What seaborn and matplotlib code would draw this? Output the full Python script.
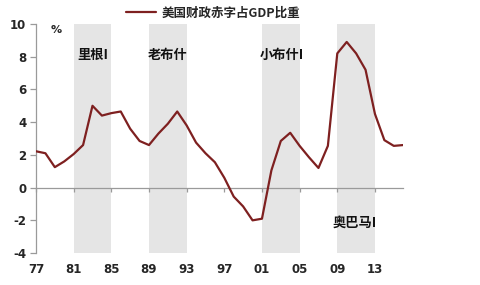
import matplotlib
matplotlib.use("Agg")
import matplotlib.pyplot as plt
import seaborn as sns
import pandas as pd

years = list(range(1977, 2017))
deficit = [2.22, 2.1, 1.25, 1.6, 2.05, 2.6, 5.0, 4.4, 4.55, 4.65,
           3.6, 2.85, 2.6, 3.3, 3.9, 4.65, 3.8, 2.75, 2.1, 1.55,
           0.6, -0.55, -1.15, -2.0, -1.9, 1.05, 2.85, 3.35, 2.55, 1.85,
           1.2, 2.55, 8.2, 8.9, 8.2, 7.2, 4.5, 2.9, 2.55, 2.6]
series_name = "美国财政赤字占GDP比重"
term_starts = [1981, 1989, 2001, 2009]
term_ends = [1985, 1993, 2005, 2013]
term_names = ["里根I", "老布什", "小布什I", "奥巴马I"]
xtick_years = [1977, 1981, 1985, 1989, 1993, 1997, 2001, 2005, 2009, 2013]
xtick_labels = ["77", "81", "85", "89", "93", "97", "01", "05", "09", "13"]
yticks = [-4, -2, 0, 2, 4, 6, 8, 10]

sns.set_style("white")
plt.rcParams["font.family"] = ["Noto Sans CJK SC", "DejaVu Sans"]

df = pd.DataFrame({"year": years, "value": deficit, "series": series_name})

fig = plt.figure(figsize=(4.8, 2.85), dpi=100)
ax = fig.add_axes([0.075, 0.112, 0.765, 0.804])

for s, e in zip(term_starts, term_ends):
    ax.axvspan(s, e, color="#e5e5e5", lw=0, zorder=0)

sns.lineplot(data=df, x="year", y="value", hue="series",
             palette=["#7e2020"], linewidth=1.6, ax=ax, zorder=3, legend=True)

ax.set_xlim(1977, 2016)
ax.set_ylim(-4, 10)
ax.set_yticks(yticks)
ax.set_yticklabels([str(v) for v in yticks], fontweight="bold", fontsize=8.5,
                   family=["DejaVu Sans"])
ax.set_xlabel("")
ax.set_ylabel("")

for sp in ["top", "right"]:
    ax.spines[sp].set_visible(False)
ax.spines["left"].set_color("#9a9a9a")
ax.spines["left"].set_linewidth(0.9)
ax.spines["bottom"].set_position(("data", 0))
ax.spines["bottom"].set_color("#9a9a9a")
ax.spines["bottom"].set_linewidth(0.9)

ax.tick_params(axis="y", direction="out", length=4, width=0.9, color="#9a9a9a",
               pad=3, left=True)
ax.set_xticks(xtick_years)
ax.tick_params(axis="x", direction="out", length=3, width=0.9, color="#9a9a9a",
               labelbottom=False, bottom=True)

sec = ax.secondary_xaxis(0)
sec.set_xticks(xtick_years)
sec.set_xticklabels(xtick_labels, fontweight="bold", fontsize=8.5,
                    family=["DejaVu Sans"])
sec.tick_params(length=0, pad=7)
sec.spines["bottom"].set_visible(False)

label_pos = [(1983.0, 8.1), (1991.0, 8.1), (2003.1, 8.1), (2010.8, -2.15)]
for name, (x, y) in zip(term_names, label_pos):
    ax.text(x, y, name, ha="center", va="center", fontsize=9.5,
            fontweight="bold", color="#111111")

ax.text(1979.1, 9.6, "%", ha="center", va="center", fontsize=8,
        fontweight="bold", family=["DejaVu Sans"])

ax.get_legend().remove()
handles, labels = ax.get_legend_handles_labels()
fig.legend(handles, labels, loc="center", bbox_to_anchor=(0.444, 0.954),
           frameon=False, handlelength=2.4, handletextpad=0.5,
           prop={"family": ["Noto Sans CJK SC", "DejaVu Sans"],
                 "weight": "bold", "size": 9})

fig.savefig("out.png", dpi=100)
